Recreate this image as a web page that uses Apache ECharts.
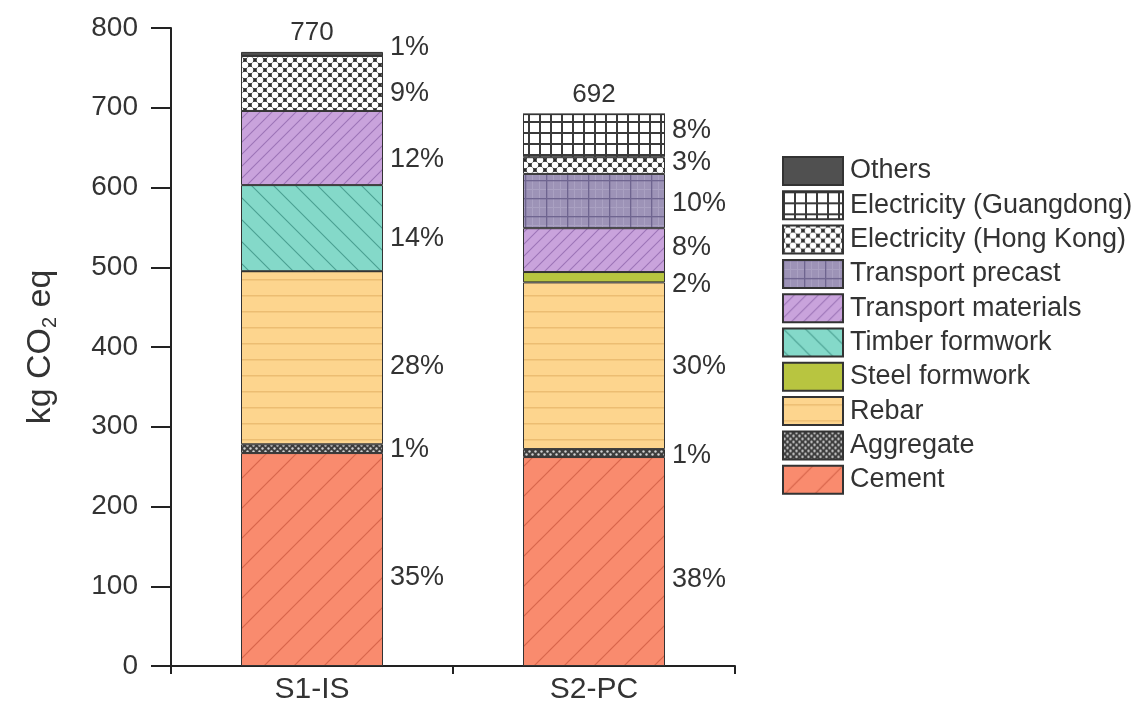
<!DOCTYPE html>
<html>
<head>
<meta charset="utf-8">
<script src="https://cdn.jsdelivr.net/npm/echarts@6/dist/echarts.min.js"></script>
<style>
  html, body { margin: 0; padding: 0; background: #fff; }
  #chart { width: 1146px; height: 716px; }
</style>
</head>
<body>
<div id="chart"></div>
<script>
// Embodied carbon per scheme, kg CO2 eq, by component
const schemes = ['S1-IS', 'S2-PC'];
const cement = [267, 262];
const aggregate = [11, 10];
const rebar = [217, 209];
const steelFormwork = [0, 13];
const timberFormwork = [108, 0];
const transportMaterials = [93, 55];
const transportPrecast = [0, 68];
const electricityHK = [69, 21];
const electricityGD = [0, 54];
const others = [5, 0];
const yMin = 0, yMax = 800, yStep = 100;

const FONT = "'Liberation Sans', Arial, sans-serif";
const INK = '#333';

// ---- fill patterns drawn on small tiles ----
function tile(w, h, draw) {
  const c = document.createElement('canvas');
  c.width = w; c.height = h;
  const g = c.getContext('2d');
  draw(g, w, h);
  return { image: c, repeat: 'repeat' };
}
function hatch(bg, line, s, lw, dir) {
  return tile(s, s, (g) => {
    g.fillStyle = bg; g.fillRect(0, 0, s, s);
    g.strokeStyle = line; g.lineWidth = lw;
    for (const k of [-s, 0, s]) {
      g.beginPath();
      if (dir === '/') { g.moveTo(k - 1, s + 1); g.lineTo(k + s + 1, -1); }
      else { g.moveTo(k - 1, -1); g.lineTo(k + s + 1, s + 1); }
      g.stroke();
    }
  });
}
const fills = {
  'Cement': hatch('#f98b6e', '#d8664c', 30, 1.2, '/'),
  'Aggregate': tile(6, 6, (g) => {
    g.fillStyle = '#3e3e3e'; g.fillRect(0, 0, 6, 6);
    g.fillStyle = '#d0d0d0';
    g.beginPath(); g.arc(1.5, 1.5, 1.2, 0, Math.PI * 2); g.fill();
    g.beginPath(); g.arc(4.5, 4.5, 1.2, 0, Math.PI * 2); g.fill();
  }),
  'Rebar': tile(16, 16, (g) => {
    g.fillStyle = '#fdd58e'; g.fillRect(0, 0, 16, 16);
    g.fillStyle = '#ecbd72'; g.fillRect(0, 7, 16, 1.5);
  }),
  'Steel formwork': tile(20, 20, (g) => {
    g.fillStyle = '#b8c540'; g.fillRect(0, 0, 20, 20);
  }),
  'Timber formwork': hatch('#84d9c9', '#4a9f90', 22, 1.1, '\\'),
  'Transport materials': hatch('#c9a3dc', '#9c74b7', 12, 1.1, '/'),
  'Transport precast': tile(21, 18, (g) => {
    g.fillStyle = '#9d93b7'; g.fillRect(0, 0, 21, 18);
    g.fillStyle = '#aaa1c2';
    g.fillRect(7, 0, 1, 18); g.fillRect(14, 0, 1, 18); g.fillRect(0, 9, 21, 1);
    g.fillStyle = '#6f6590';
    g.fillRect(0, 0, 1.3, 18); g.fillRect(0, 0, 21, 1.3);
  }),
  'Electricity (Hong Kong)': tile(10, 10, (g) => {
    g.fillStyle = '#2a2a2a'; g.fillRect(0, 0, 10, 10);
    g.fillStyle = '#ffffff';
    for (const [x, y] of [[0, 0], [10, 0], [0, 10], [10, 10], [5, 5]]) {
      g.beginPath(); g.arc(x, y, 3.3, 0, Math.PI * 2); g.fill();
    }
  }),
  'Electricity (Guangdong)': tile(11, 11, (g) => {
    g.fillStyle = '#ffffff'; g.fillRect(0, 0, 11, 11);
    g.fillStyle = '#3a3a3a';
    g.fillRect(0, 0, 2, 11); g.fillRect(0, 0, 11, 2);
  }),
  'Others': tile(10, 10, (g) => {
    g.fillStyle = '#505050'; g.fillRect(0, 0, 10, 10);
  })
};

const components = [
  ['Cement', cement],
  ['Aggregate', aggregate],
  ['Rebar', rebar],
  ['Steel formwork', steelFormwork],
  ['Timber formwork', timberFormwork],
  ['Transport materials', transportMaterials],
  ['Transport precast', transportPrecast],
  ['Electricity (Hong Kong)', electricityHK],
  ['Electricity (Guangdong)', electricityGD],
  ['Others', others]
];

const totals = schemes.map((_, i) => components.reduce((s, [, arr]) => s + arr[i], 0));

// vertical nudges (px) for the share labels, per scheme
const labelNudge = {
  'Cement': [18, 18],
  'Aggregate': [1, 2],
  'Rebar': [9, 1],
  'Steel formwork': [0, 7],
  'Timber formwork': [10, 0],
  'Transport materials': [12, -3],
  'Transport precast': [0, 2],
  'Electricity (Hong Kong)': [10, -3],
  'Electricity (Guangdong)': [0, -5],
  'Others': [-6, 0]
};

const BAR_W = 142;

const series = components.map(([name, arr]) => ({
  name,
  type: 'bar',
  stack: 'total',
  barWidth: BAR_W,
  barGap: '-100%',
  itemStyle: { color: fills[name], borderColor: '#333', borderWidth: 1 },
  label: {
    show: true,
    position: 'right',
    distance: 7,
    color: INK,
    fontFamily: FONT,
    fontSize: 27,
    formatter: (p) => p.value > 0 ? Math.round(p.value / totals[p.dataIndex] * 100) + '%' : ''
  },
  data: arr.map((v, i) => ({ value: v, label: { offset: [0, labelNudge[name][i]] } }))
}));

// totals above each stack (transparent overlay bar carrying the label)
series.push({
  name: 'Total',
  type: 'bar',
  barWidth: BAR_W,
  barGap: '-100%',
  silent: true,
  itemStyle: { color: 'rgba(255,255,255,0)', borderWidth: 0 },
  label: {
    show: true,
    position: 'top',
    distance: 6,
    color: INK,
    fontFamily: FONT,
    fontSize: 26,
    formatter: (p) => String(p.value)
  },
  data: totals
});

const chart = echarts.init(document.getElementById('chart'), null, { renderer: 'canvas' });
chart.setOption({
  backgroundColor: '#fff',
  animation: false,
  textStyle: { fontFamily: FONT },
  grid: { left: 171, top: 28, width: 564, height: 638, containLabel: false },
  legend: {
    data: components.map(c => c[0]).reverse(),
    orient: 'vertical',
    left: 777,
    top: 151,
    itemWidth: 60,
    itemHeight: 28,
    itemGap: 4.3,
    icon: 'rect',
    selectedMode: false,
    textStyle: { color: INK, fontFamily: FONT, fontSize: 27, lineHeight: 28, padding: [0, 0, 0, 2] }
  },
  xAxis: {
    type: 'category',
    data: schemes,
    axisLine: { lineStyle: { color: '#222', width: 2 } },
    axisTick: { show: true, length: 8, lineStyle: { color: '#222', width: 2 } },
    axisLabel: { color: INK, fontFamily: FONT, fontSize: 30, margin: 9 }
  },
  yAxis: {
    type: 'value',
    min: yMin,
    max: yMax,
    interval: yStep,
    name: 'kg CO{sub|2} eq',
    nameLocation: 'middle',
    nameGap: 111,
    nameTextStyle: {
      color: INK, fontFamily: FONT, fontSize: 34,
      rich: { sub: { fontSize: 20, color: INK, fontFamily: FONT, padding: [18, 0, 0, 0] } }
    },
    axisLine: { show: true, lineStyle: { color: '#222', width: 2 } },
    axisTick: { show: true, length: 20, lineStyle: { color: '#222', width: 2 } },
    axisLabel: { color: INK, fontFamily: FONT, fontSize: 28, margin: 33 },
    splitLine: { show: false }
  },
  series
});
</script>
</body>
</html>
